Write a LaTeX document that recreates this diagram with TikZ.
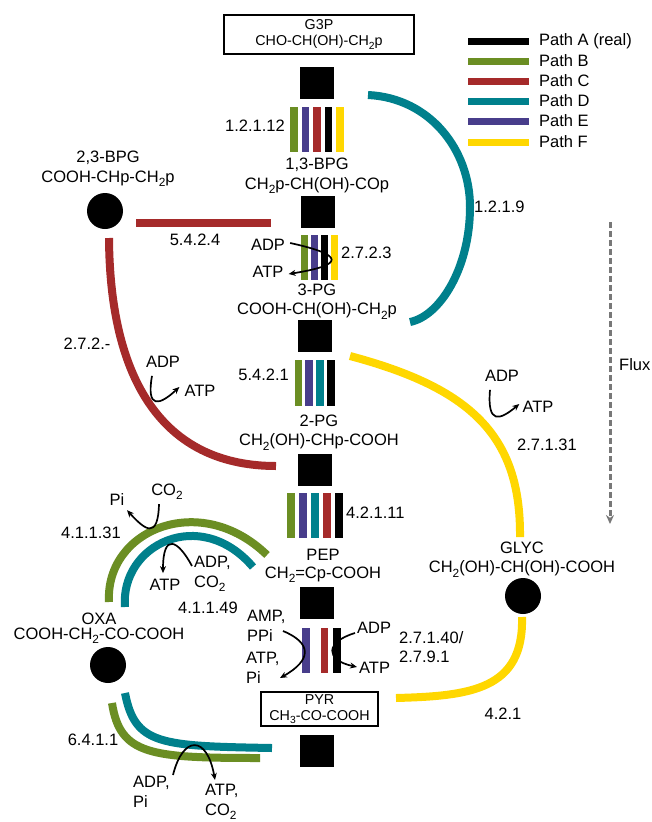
\documentclass[tikz,border=0pt]{standalone}
\usepackage{fontspec}
\setmainfont{Liberation Sans}
\usetikzlibrary{arrows.meta}
\definecolor{pA}{RGB}{0,0,0}
\definecolor{pB}{RGB}{107,142,35}
\definecolor{pC}{RGB}{165,42,42}
\definecolor{pD}{RGB}{0,128,140}
\definecolor{pE}{RGB}{72,61,139}
\definecolor{pF}{RGB}{255,215,0}
\definecolor{fluxgray}{RGB}{120,120,120}
\newcommand\chsub[1]{\raisebox{-0.25em}{\scalebox{0.72}{#1}}}
\tikzset{
  txt/.style={font=\fontsize{16.5}{19.5}\selectfont, inner sep=0pt, align=center},
  ltxt/.style={font=\fontsize{16.5}{19.5}\selectfont, inner sep=0pt, align=left},
  boxnode/.style={draw, line width=1.2pt, inner sep=0pt, align=center, font=\fontsize{14.3}{16}\selectfont},
  sq/.style={fill=black, minimum width=34pt, minimum height=32pt, inner sep=0pt},
  dot/.style={circle, fill=black, minimum size=36pt, inner sep=0pt},
  ebar/.style={minimum width=7.5pt, minimum height=45pt, inner sep=0pt},
  route/.style={line width=8pt},
  legline/.style={line width=7pt},
  rxn/.style={line width=1.7pt, -{Stealth[length=7pt,width=6pt]}},
}
\begin{document}
\begin{tikzpicture}[x=1pt,y=-1pt]
\useasboundingbox (0,0) rectangle (651,822);

% ---------- legend ----------
\coordinate (lA1) at (468,41);  \coordinate (lA2) at (529,41);
\coordinate (lB1) at (468,61);  \coordinate (lB2) at (529,61);
\coordinate (lC1) at (468,81);  \coordinate (lC2) at (529,81);
\coordinate (lD1) at (468,101); \coordinate (lD2) at (529,101);
\coordinate (lE1) at (468,121); \coordinate (lE2) at (529,121);
\coordinate (lF1) at (468,142); \coordinate (lF2) at (529,142);
\draw[legline,pA] (lA1) -- (lA2);
\draw[legline,pB] (lB1) -- (lB2);
\draw[legline,pC] (lC1) -- (lC2);
\draw[legline,pD] (lD1) -- (lD2);
\draw[legline,pE] (lE1) -- (lE2);
\draw[legline,pF] (lF1) -- (lF2);
\node[txt,anchor=west] (legA) at (539,41) {Path A (real)};
\node[txt,anchor=west] (legB) at (539,61) {Path B};
\node[txt,anchor=west] (legC) at (539,81) {Path C};
\node[txt,anchor=west] (legD) at (539,101) {Path D};
\node[txt,anchor=west] (legE) at (539,121) {Path E};
\node[txt,anchor=west] (legF) at (539,142) {Path F};

% ---------- main column ----------
\node[boxnode, minimum width=190pt, minimum height=39pt] (g3p) at (319,34.5) {G3P\\CHO-CH(OH)-CH\chsub{2}p};
\node[sq] (s1) at (317,83) {};
\node[ebar,fill=pB] (e1b) at (294,129.5) {};
\node[ebar,fill=pE] (e1e) at (305.5,129.5) {};
\node[ebar,fill=pC] (e1c) at (317,129.5) {};
\node[ebar,fill=pA] (e1a) at (328.5,129.5) {};
\node[ebar,fill=pF] (e1f) at (340,129.5) {};
\node[txt,anchor=east] (l1) at (285,126) {1.2.1.12};

\node[txt] (bpg13) at (317,176) {1,3-BPG\\CH\chsub{2}p-CH(OH)-COp};
\node[sq] (s2) at (318,212) {};
\node[ebar,fill=pB] (e2b) at (304.5,257.5) {};
\node[ebar,fill=pE] (e2e) at (314.5,257.5) {};
\node[ebar,fill=pA] (e2a) at (324.5,257.5) {};
\node[ebar,fill=pF] (e2f) at (334.5,257.5) {};
\node[txt,anchor=west] (l2) at (341,253) {2.7.2.3};
\node[txt] (adp1) at (268,245) {ADP};
\node[txt] (atp1) at (268,272) {ATP};

\node[txt] (pg3) at (317,301.5) {3-PG\\COOH-CH(OH)-CH\chsub{2}p};
\node[sq] (s3) at (315,336) {};
\node[ebar,fill=pB,minimum height=46pt] (e3b) at (298.5,383) {};
\node[ebar,fill=pE,minimum height=46pt] (e3e) at (309,383) {};
\node[ebar,fill=pD,minimum height=46pt] (e3d) at (320,383) {};
\node[ebar,fill=pA,minimum height=46pt] (e3a) at (331,383) {};
\node[txt,anchor=east] (l3) at (289,375) {5.4.2.1};

\node[txt] (pg2) at (319,432.5) {2-PG\\CH\chsub{2}(OH)-CHp-COOH};
\node[sq] (s4) at (315,470) {};
\node[ebar,fill=pB] (e4b) at (291,515.5) {};
\node[ebar,fill=pE] (e4e) at (303,515.5) {};
\node[ebar,fill=pD] (e4d) at (315,515.5) {};
\node[ebar,fill=pC] (e4c) at (327,515.5) {};
\node[ebar,fill=pA] (e4a) at (339,515.5) {};
\node[txt,anchor=west] (l4) at (346,513) {4.2.1.11};

\node[txt,font=\fontsize{16.5}{18.5}\selectfont] (pep) at (323,566) {PEP\\CH\chsub{2}=Cp-COOH};
\node[sq] (s5) at (317,603) {};
\node[ebar,fill=pE] (e5e) at (306,650.5) {};
\node[ebar,fill=pC] (e5c) at (324.5,650.5) {};
\node[ebar,fill=pA] (e5a) at (337,650.5) {};
\node[ltxt,anchor=west] (amp) at (247,626) {AMP,\\PPi};
\node[ltxt,anchor=west] (atppi) at (246,668) {ATP,\\Pi};
\node[txt,anchor=west] (adp5) at (357,628) {ADP};
\node[txt,anchor=west] (atp5) at (359,668) {ATP};
\node[ltxt,anchor=west] (l5) at (399,647) {2.7.1.40/\\2.7.9.1};

\node[boxnode, minimum width=117pt, minimum height=34pt] (pyr) at (319.5,709) {PYR\\CH\chsub{3}-CO-COOH};
\node[sq] (s6) at (317,751) {};

% ---------- left: 2,3-BPG ----------
\node[txt] (bpg23) at (108,169) {2,3-BPG\\COOH-CHp-CH\chsub{2}p};
\node[dot] (c23) at (105,211) {};
\coordinate (r1a) at (136,223);
\coordinate (r1b) at (271,223);
\draw[route,pC] (r1a) -- (r1b);
\node[txt] (l6) at (195,240) {5.4.2.4};
\coordinate (r2a) at (109,238);
\coordinate (r2b) at (276,466);
\draw[route,pC] (r2a) .. controls (110,390) and (170,466) .. (r2b);
\node[txt] (l7) at (87,344) {2.7.2.-};
\node[txt] (adp2) at (163,362) {ADP};
\node[txt] (atp2) at (200,391) {ATP};

% ---------- right: path D ----------
\coordinate (d1a) at (368,95);
\coordinate (d1b) at (410,322);
\draw[route,pD] (d1a) .. controls (430,98) and (470,150) .. (470,207) .. controls (470,268) and (440,316) .. (d1b);
\node[txt,anchor=west] (l8) at (474,207) {1.2.1.9};

% ---------- right: path F ----------
\coordinate (f1a) at (350,356);
\coordinate (f1b) at (520,537);
\draw[route,pF] (f1a) .. controls (470,388) and (521,435) .. (f1b);
\node[txt] (l9) at (547,445) {2.7.1.31};
\node[txt] (adp3) at (502,376) {ADP};
\node[txt] (atp3) at (538,407) {ATP};
\node[txt] (glyc) at (522,559.5) {GLYC\\CH\chsub{2}(OH)-CH(OH)-COOH};
\node[dot] (cgl) at (523,596) {};
\coordinate (f2a) at (522,617);
\coordinate (f2b) at (396,698);
\draw[route,pF] (f2a) .. controls (524,690) and (470,696) .. (f2b);
\node[txt] (l10) at (503,714) {4.2.1};

% flux
\coordinate (fx1) at (610,222);
\coordinate (fx2) at (610,524);
\draw[fluxgray, line width=3pt, dash pattern=on 6pt off 3pt, -{Stealth[length=9pt,width=8pt]}] (fx1) -- (fx2);
\node[txt,anchor=west] (flux) at (619,365) {Flux};

% ---------- lower left: OXA ----------
\node[txt,font=\fontsize{16.5}{15}\selectfont] (oxa) at (99,628.5) {OXA\\COOH-CH\chsub{2}-CO-COOH};
\node[dot] (coxa) at (108,665) {};
\coordinate (b1a) at (109,602);
\coordinate (b1b) at (267,555);
\draw[route,pB] (b1a) .. controls (105,530) and (200,490) .. (b1b);
\coordinate (t1a) at (125,607);
\coordinate (t1b) at (253,567);
\draw[route,pD] (t1a) .. controls (120,545) and (200,505) .. (t1b);
\node[txt] (l11) at (91,533) {4.1.1.31};
\node[txt] (co2a) at (167,492) {CO\chsub{2}};
\node[txt] (pi1) at (117,500) {Pi};
\node[ltxt,anchor=west] (adpco2) at (194,574) {ADP,\\CO\chsub{2}};
\node[txt] (atp4) at (165,585) {ATP};
\node[txt] (l12) at (208,608) {4.1.1.49};

\coordinate (t2a) at (125,693);
\coordinate (t2b) at (272,748);
\draw[route,pD] (t2a) .. controls (135,745) and (160,746) .. (t2b);
\coordinate (b2a) at (112,703);
\coordinate (b2b) at (260,758);
\draw[route,pB] (b2a) .. controls (120,755) and (150,758) .. (b2b);
\node[txt] (l13) at (93,740) {6.4.1.1};
\node[ltxt,anchor=west] (adppi) at (133,792) {ADP,\\Pi};
\node[ltxt,anchor=west] (atpco2) at (205,802) {ATP,\\CO\chsub{2}};

% ---------- reaction arrows ----------
\draw[rxn] ([xshift=5pt,yshift=2pt]adp1.east) .. controls (345,255) and (345,265) .. ([xshift=5pt,yshift=-2pt]atp1.east);
\draw[rxn] ([shift={(-11,8)}]adp2.south) .. controls (146,410) and (160,405) .. ([xshift=-5pt,yshift=4pt]atp2.west);
\draw[rxn] ([shift={(-12,8)}]adp3.south) .. controls (487,425) and (500,420) .. ([xshift=-3pt,yshift=3pt]atp3.west);
\draw[rxn] ([shift={(-8,4)}]co2a.south) .. controls (158,540) and (145,530) .. ([shift={(10,4)}]pi1.south);
\draw[rxn] ([shift={(-2,-8)}]adpco2.west) .. controls (178,540) and (163,532) .. ([shift={(-2,-6)}]atp4.north);
\draw[rxn] ([shift={(36,5)}]amp.west) .. controls (312,643) and (312,660) .. ([shift={(34,10)}]atppi.west);
\draw[rxn] ([shift={(-2,5)}]adp5.west) .. controls (325,642) and (325,660) .. ([shift={(-2,-1)}]atp5.west);
\draw[rxn] ([shift={(40,-17)}]adppi.west) .. controls (183,735) and (207,735) .. ([shift={(10,-22)}]atpco2.west);
\end{tikzpicture}
\end{document}
